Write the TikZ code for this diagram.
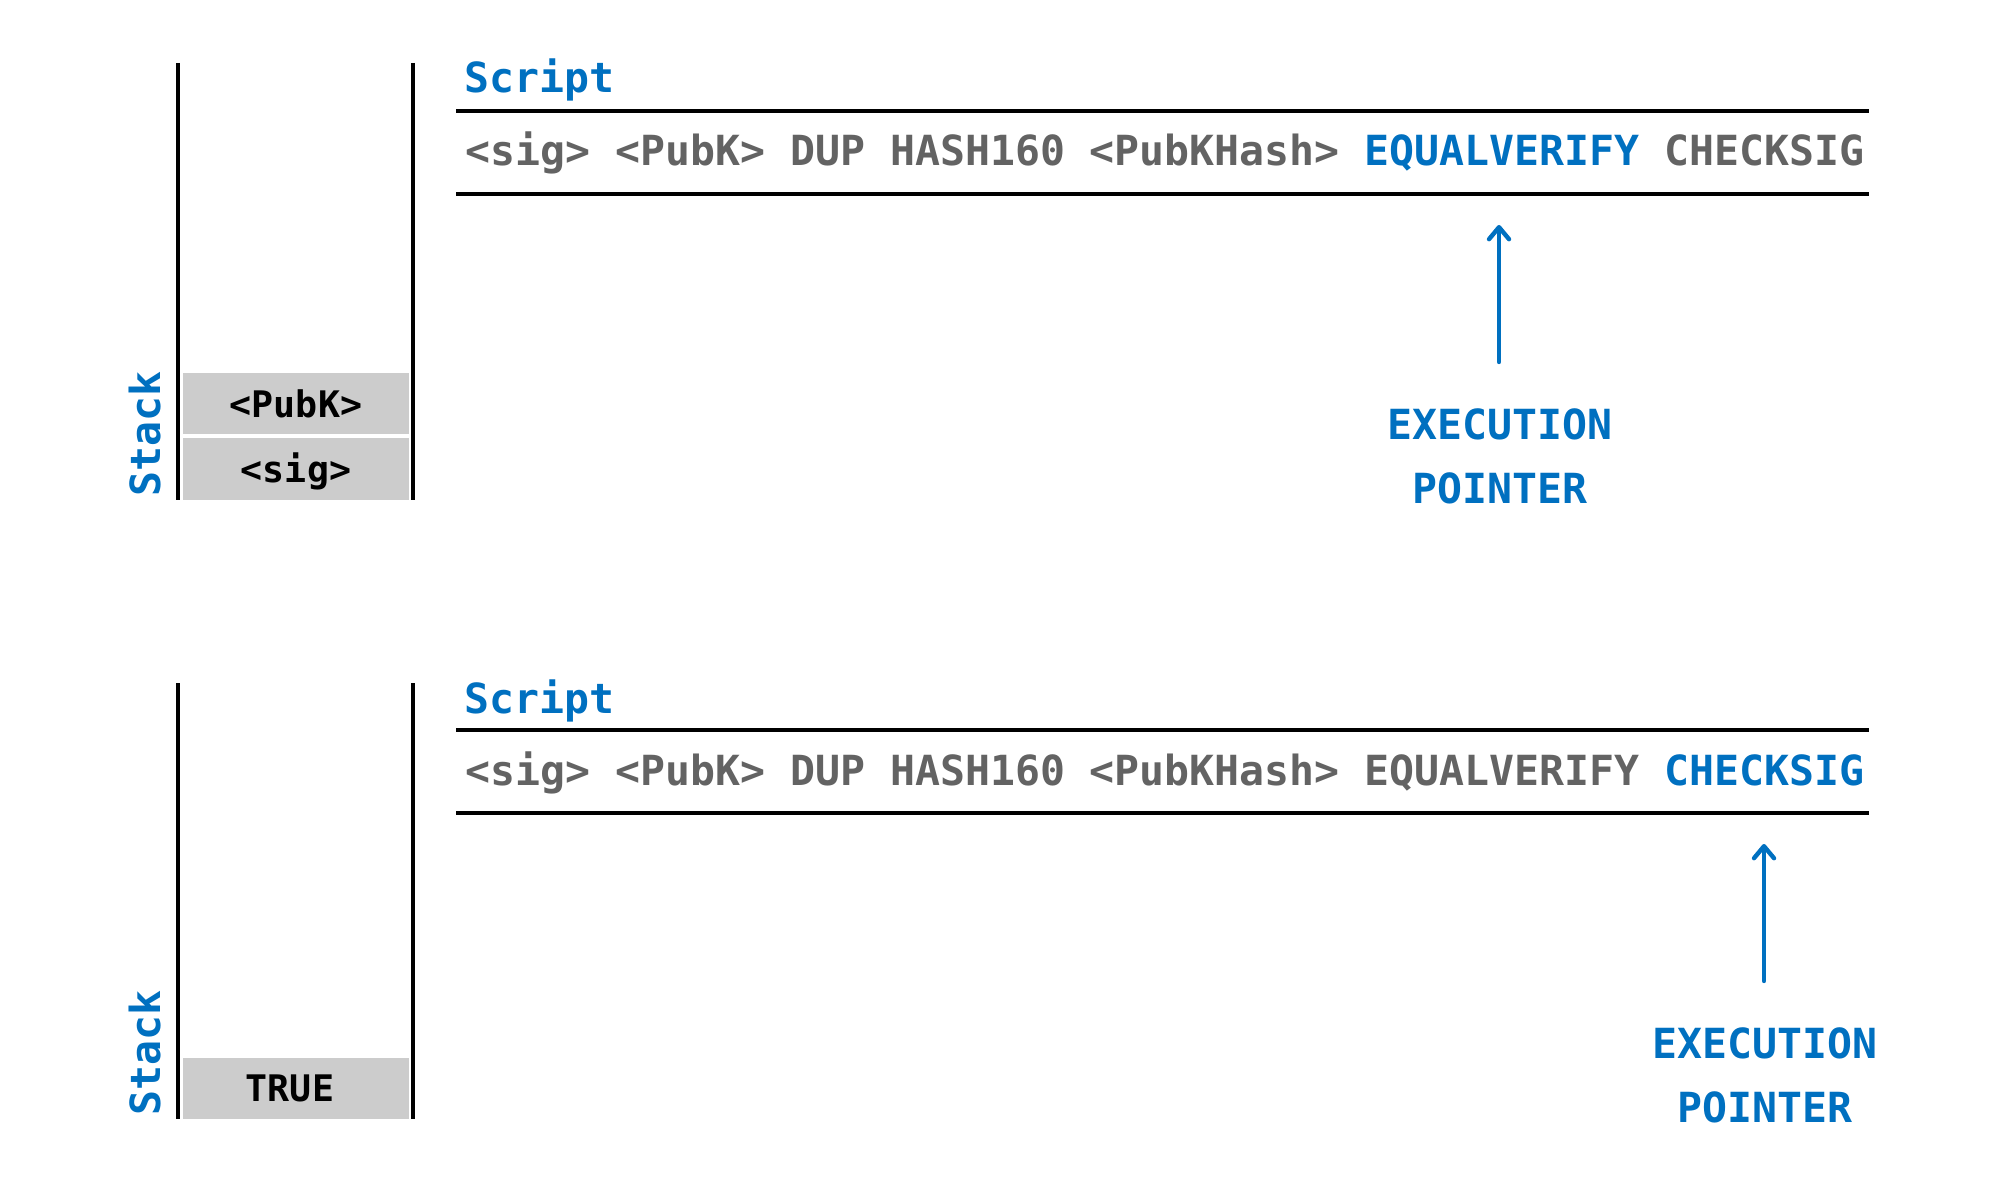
\documentclass[tikz,border=0pt]{standalone}
\usepackage{fontspec}
\setmonofont{DejaVu Sans Mono}
\usetikzlibrary{arrows.meta}
\definecolor{mblue}{HTML}{0070C0}
\definecolor{mgray}{HTML}{636363}
\definecolor{boxgray}{HTML}{CCCCCC}
\newcommand{\bigmono}{\ttfamily\bfseries\fontsize{20.75pt}{25pt}\selectfont}
\newcommand{\smallmono}{\ttfamily\bfseries\fontsize{18.3pt}{22pt}\selectfont}
\tikzset{
  txt/.style={inner sep=0pt, anchor=base west, font=\bigmono},
  stackline/.style={line width=1.6pt, black},
  rule/.style={line width=1.6pt, black},
  cell/.style={fill=boxgray, draw=none},
  celltxt/.style={inner sep=0pt, anchor=base, font=\smallmono, text=black},
  ptr/.style={mblue, line width=2.2pt, line cap=round, -{Straight Barb[length=6pt,width=10pt,round]}},
  ptrtxt/.style={inner sep=0pt, anchor=base, font=\bigmono, text=mblue},
}
\begin{document}
\begin{tikzpicture}[x=0.5pt,y=-0.5pt]
\useasboundingbox[fill=white] (0,0) rectangle (1999,1193);

% ---------- top panel ----------
\path[cell] (183,373) rectangle (409,434);
\path[cell] (183,438) rectangle (409,500);
\node[celltxt] (c1a) at (296,417) {<PubK>};
\node[celltxt] (c1b) at (296,482) {<sig>};
\draw[stackline] (178,63) -- (178,500);
\draw[stackline] (413,63) -- (413,500);
\node[txt, rotate=90, text=mblue] (stack1) at (160,497) {Stack};

\node[txt, text=mblue] (slabel1) at (464,93) {Script};
\draw[rule] (456,111) -- (1869,111);
\draw[rule] (456,194) -- (1869,194);
\node[txt, text=mgray] (sline1) at (465,166) {<sig> <PubK> DUP HASH160 <PubKHash> \textcolor{mblue}{EQUALVERIFY} CHECKSIG};

\coordinate (p1tail) at (1499,362);
\coordinate (p1tip) at (1499,225);
\draw[ptr] (p1tail) -- (p1tip);
\node[ptrtxt] (ep1a) at (1500,439) {EXECUTION};
\node[ptrtxt] (ep1b) at (1500,503) {POINTER};

% ---------- bottom panel ----------
\path[cell] (183,1058) rectangle (409,1119);
\node[celltxt] (c2a) at (290,1101) {TRUE};
\draw[stackline] (178,683) -- (178,1119);
\draw[stackline] (413,683) -- (413,1119);
\node[txt, rotate=90, text=mblue] (stack2) at (160,1116) {Stack};

\node[txt, text=mblue] (slabel2) at (464,713) {Script};
\draw[rule] (456,730) -- (1869,730);
\draw[rule] (456,813) -- (1869,813);
\node[txt, text=mgray] (sline2) at (465,785) {<sig> <PubK> DUP HASH160 <PubKHash> EQUALVERIFY \textcolor{mblue}{CHECKSIG}};

\coordinate (p2tail) at (1764,981);
\coordinate (p2tip) at (1764,844);
\draw[ptr] (p2tail) -- (p2tip);
\node[ptrtxt] (ep2a) at (1765,1058) {EXECUTION};
\node[ptrtxt] (ep2b) at (1765,1122) {POINTER};
\end{tikzpicture}
\end{document}
